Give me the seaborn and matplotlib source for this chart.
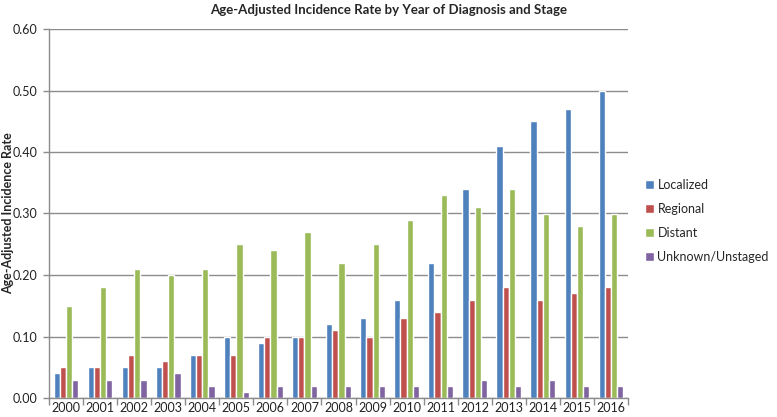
import matplotlib
matplotlib.use("Agg")
import matplotlib.pyplot as plt
import seaborn as sns
import pandas as pd
import numpy as np

years = [str(y) for y in range(2000, 2017)]
stages = ["Localized", "Regional", "Distant", "Unknown/Unstaged"]
localized = [0.04, 0.05, 0.05, 0.05, 0.07, 0.10, 0.09, 0.10, 0.12, 0.13, 0.16, 0.22, 0.34, 0.41, 0.45, 0.47, 0.50]
regional = [0.05, 0.05, 0.07, 0.06, 0.07, 0.07, 0.10, 0.10, 0.11, 0.10, 0.13, 0.14, 0.16, 0.18, 0.16, 0.17, 0.18]
distant = [0.15, 0.18, 0.21, 0.20, 0.21, 0.25, 0.24, 0.27, 0.22, 0.25, 0.29, 0.33, 0.31, 0.34, 0.30, 0.28, 0.30]
unknown = [0.03, 0.03, 0.03, 0.04, 0.02, 0.01, 0.02, 0.02, 0.02, 0.02, 0.02, 0.02, 0.03, 0.02, 0.03, 0.02, 0.02]

colors = ["#4F81BD", "#C0504D", "#9BBB59", "#8064A2"]

df = pd.DataFrame({"Year": years, "Localized": localized, "Regional": regional,
                   "Distant": distant, "Unknown/Unstaged": unknown})
long = df.melt(id_vars="Year", var_name="Stage", value_name="Rate")

sns.set_theme(style="white")
plt.rcParams["font.family"] = ["Lato", "DejaVu Sans"]

fig = plt.figure(figsize=(7.77, 4.17), dpi=100)
ax = fig.add_axes([49 / 777, 19 / 417, (628 - 49) / 777, (398 - 29) / 417])

sns.barplot(data=long, x="Year", y="Rate", hue="Stage", hue_order=stages,
            palette=colors, width=4 / 5.5, saturation=1, ax=ax, legend=True)

ax.set_xlim(-0.5, len(years) - 0.5)
ax.set_ylim(0, 0.6)
ax.set_yticks(np.arange(0, 0.61, 0.1))
ax.set_yticklabels([f"{v:.2f}" for v in np.arange(0, 0.61, 0.1)], fontsize=9, color="#222222")
ax.set_axisbelow(True)
ax.yaxis.grid(True, color="#8c8c8c", linewidth=1)
ax.xaxis.grid(False)

ax.set_xticks(range(len(years)))
ax.set_xticklabels(years, fontsize=9, color="#222222")
ax.tick_params(axis="x", which="major", length=0, pad=3)
ax.set_xticks(np.arange(-0.5, len(years), 1), minor=True)
ax.tick_params(axis="x", which="minor", length=5, color="#8c8c8c", width=1, bottom=True)
ax.tick_params(axis="y", length=4, color="#8c8c8c", width=1, left=True, pad=4.5)

for side in ["top", "right"]:
    ax.spines[side].set_visible(False)
for side in ["left", "bottom"]:
    ax.spines[side].set_color("#8c8c8c")
    ax.spines[side].set_linewidth(1)

ax.set_xlabel("")
ax.set_ylabel("Age-Adjusted Incidence Rate", fontsize=9, fontweight="bold")
ax.yaxis.set_label_coords(-35 / 579, 0.5)
fig.suptitle("Age-Adjusted Incidence Rate by Year of Diagnosis and Stage",
             fontsize=9.5, fontweight="bold", x=0.5, y=0.99)

handles, labels = ax.get_legend_handles_labels()
ax.get_legend().remove()
fig.legend(handles, labels, loc="center left", bbox_to_anchor=(645 / 777, 1 - 221 / 417),
           frameon=False, fontsize=9, handlelength=0.7, handleheight=0.7,
           handletextpad=0.3, labelspacing=0.95, borderaxespad=0, borderpad=0)

fig.savefig("out.png", dpi=100)
